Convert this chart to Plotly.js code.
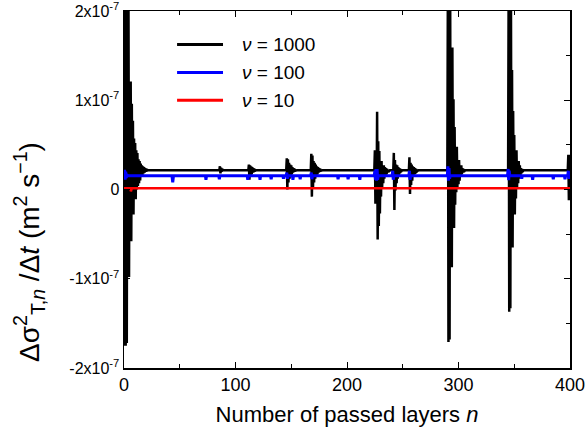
<!DOCTYPE html>
<html>
<head>
<meta charset="utf-8">
<script src="https://cdn.plot.ly/plotly-3.0.1.min.js"></script>
<style>html,body{margin:0;padding:0;background:#fff}#chart{width:587px;height:437px}</style>
</head>
<body>
<div id="chart"></div>
<script>
// values in units of 1e-8 m^2 s^-1
const UNIT = 1e-8;

// nu = 1000 (black): layer index n and rate value
const n1000 = [
  0,0.5,1,1.5,2,2.5,3,3.5,4,4.5,5,5.5,6,6.5,7,7.5,8,8.5,9,9.5,10,10.5,11,11.5,12,12.5,13,13.5,14,14.5,15,15.5,16,16.5,17,17.5,18,18.5,19,19.5,20,20.5,21,22,
  85.5,86,86.5,87,87.5,88,89,
  111.5,112,112.5,113,113.5,114,114.5,115,115.5,116,116.5,117,117.5,118.5,
  145.5,146,146.5,147,147.5,148,148.5,149,149.5,150,150.5,151,151.5,152,152.5,153,153.5,155,
  167.5,168,168.5,169,169.5,170,170.5,171,171.5,172,172.5,173,173.5,174,174.5,175,175.5,176,176.5,178,
  224.5,225,225.5,226,226.5,227,227.5,228,228.5,229,229.5,230,230.5,231,231.5,232,232.5,233,233.5,234,234.5,235,235.5,236,236.5,237,237.5,238.5,
  241.5,242,242.5,243,243.5,244,244.5,245,245.5,246,246.5,247,247.5,248,248.5,249.5,
  255.5,256,256.5,257,257.5,258,258.5,259,259.5,260,260.5,261,261.5,262,262.5,264,
  290,290.5,291,291.5,292,292.5,293,293.5,294,294.5,295,295.5,296,296.5,297,297.5,298,298.5,299,299.5,300,300.5,301,301.5,302,302.5,303,303.5,304,304.5,305,306,
  344.5,345,345.5,346,346.5,347,347.5,348,348.5,349,349.5,350,350.5,351,351.5,352,352.5,353,353.5,354,354.5,355,355.5,356,356.5,357,357.5,358.5,
  398,398.5,399,399.5,400
];
const v1000 = [
  24,-17.5,24,-17.5,24,-17.2,24,-9.8,22,-9.8,12.1,-5.8,12.1,-5.8,9.6,-2.8,7.7,-2.8,5.7,-1.1,5.2,-1.1,4.4,0,4.1,0.4,3.4,0.7,3.2,1.0,2.9,1.4,2.7,1.6,2.6,1.8,2.5,1.9,2.4,2.0,2.3,2.05,2.2,2.15,
  2.15,2.6,1.8,2.45,2.0,2.3,2.15,
  2.15,2.8,1.1,2.7,1.4,2.6,1.7,2.5,1.9,2.4,2.0,2.3,2.1,2.15,
  2.15,3.5,0.0,3.4,0.8,3.0,1.2,2.8,1.5,2.7,1.7,2.5,1.9,2.4,2.0,2.3,2.1,2.15,
  2.15,4.0,-0.8,3.8,0.2,3.2,0.8,3.0,1.2,2.8,1.5,2.6,1.7,2.5,1.9,2.4,2.0,2.3,2.1,2.15,
  2.15,4.4,-1.6,4.4,-1.6,8.7,-5.6,5.4,-4.1,4.3,-2.7,3.2,-0.8,3.2,0.2,2.7,0.7,2.7,1.2,2.5,1.5,2.4,1.7,2.3,1.9,2.2,2.0,2.15,
  2.15,4.1,-2.3,3.3,-0.1,2.8,0.7,2.7,1.2,2.5,1.6,2.4,1.8,2.3,2.0,2.15,
  2.15,3.6,-0.5,3.0,0.5,2.8,1.0,2.6,1.4,2.5,1.7,2.4,1.9,2.3,2.0,2.15,
  2.15,24,-17.1,24,-16.8,24,-8.7,15.9,-8.7,15.9,-4.3,10.1,-4.3,7.0,-1.7,4.8,-0.3,4.8,0.2,3.3,0.6,3.3,1.0,2.7,1.4,2.7,1.7,2.4,1.9,2.3,2.0,2.15,
  2.15,24,-13.7,24,-13.3,24,-6.5,13.4,-6.5,8.8,-2.8,6.1,-2.8,4.4,-1.0,4.4,0.2,3.2,0.7,3.2,1.2,2.7,1.5,2.4,1.8,2.3,2.0,2.15,
  2.15,3.9,-1.2,3.9,-1.2
];

// nu = 100 (blue)
const n100 = [
  0,0.5,1,1.5,2,2.5,3,
  43,43.7,44.4, 73,73.5,74, 85,85.5,86, 110.5,111,111.5, 121.5,122,122.5, 131.5,132,132.5,
  142.5,143,143.5, 145.5,146,146.5,147, 151,151.5,152, 157.5,158,158.5, 167.5,168,168.5,169,
  191.5,192,192.5, 200.5,201,201.5, 211,211.5,212,
  224.5,225,225.5,226,226.5,227,227.5,228, 240.5,241,241.5,242, 255.5,256,256.5,257,
  290,290.5,291,291.5,292,292.5, 344,344.5,345,345.5,346,
  356.2,356.7,357.2, 366,366.5,367, 384.5,385,385.5, 395,395.5,396, 398,398.5,399,399.5,400
];
const v100 = [
  1.2,2.2,1.1,2.0,1.3,1.7,1.55,
  1.55,0.8,1.55, 1.55,1.1,1.55, 1.55,1.15,1.55, 1.55,1.1,1.55, 1.55,1.1,1.55, 1.55,1.15,1.55,
  1.55,1.2,1.55, 1.55,1.9,1.2,1.55, 1.55,1.1,1.55, 1.55,1.15,1.55, 1.55,1.9,1.15,1.55,
  1.55,1.15,1.55, 1.55,1.15,1.55, 1.55,1.1,1.55,
  1.55,2.1,1.1,2.3,1.0,2.3,1.1,1.55, 1.55,2.1,1.1,1.55, 1.55,2.1,1.1,1.55,
  1.55,2.6,1.0,2.4,1.2,1.55, 1.55,2.3,1.05,2.1,1.55,
  1.55,1.2,1.55, 1.55,1.1,1.55, 1.55,1.15,1.55, 1.55,1.15,1.55, 1.55,2.1,1.2,1.9,1.55
];

// nu = 10 (red)
const n10 = [0, 5.5, 6.2, 7, 400];
const v10 = [0.15, 0.15, -0.2, 0.15, 0.15];

const legendNames = ['<i>\u03bd</i> = 1000', '<i>\u03bd</i> = 100', '<i>\u03bd</i> = 10'];
const colors = ['#000000', '#0000ff', '#ff0000'];
const widths = [2.5, 3, 2.5];

const yTickVals = [-2e-7, -1e-7, 0, 1e-7, 2e-7];
const yTickText = ['-2x10<sup>-7</sup>', '-1x10<sup>-7</sup>', '0', '1x10<sup>-7</sup>', '2x10<sup>-7</sup>'];
const xTickVals = [0, 100, 200, 300, 400];

const scale = arr => arr.map(v => v * UNIT);

const traces = [
  {x: n1000, y: scale(v1000), name: legendNames[0], mode: 'lines', line: {color: colors[0], width: widths[0]}},
  {x: n100, y: scale(v100), name: legendNames[1], mode: 'lines', line: {color: colors[1], width: widths[1]}},
  {x: n10, y: scale(v10), name: legendNames[2], mode: 'lines', line: {color: colors[2], width: widths[2]}}
];

const font = 'Arial, "Liberation Sans", Helvetica, sans-serif';

// legend drawn in paper coordinates (inside plot, upper left)
const legendRowsY = [0.906, 0.828, 0.750];
const legendLineX = [0.119, 0.222];
const legendTextX = 0.26;
const shapes = [];
const annotations = [];
legendNames.forEach((name, i) => {
  shapes.push({type: 'line', xref: 'paper', yref: 'paper', x0: legendLineX[0], x1: legendLineX[1],
    y0: legendRowsY[i], y1: legendRowsY[i], line: {color: colors[i], width: 3}});
  annotations.push({xref: 'paper', yref: 'paper', x: legendTextX, y: legendRowsY[i], xanchor: 'left', yanchor: 'middle',
    text: name, showarrow: false, font: {size: 19, family: font, color: '#000'}});
});
// y-axis title
annotations.push({xref: 'paper', yref: 'paper', x: -0.213, y: 0.325, xanchor: 'center', yanchor: 'middle', textangle: -90,
  text: '\u0394\u03c3<sup>2</sup><sub>T,<i>n</i></sub> /\u0394<i>t</i> (m<sup>2</sup> s<sup>\u22121</sup>)',
  showarrow: false, font: {size: 28, family: font, color: '#000'}});

const layout = {
  width: 587, height: 437,
  margin: {l: 124, r: 17, t: 11, b: 69},
  paper_bgcolor: '#fff', plot_bgcolor: '#fff',
  font: {family: font, color: '#000', size: 18},
  showlegend: false,
  shapes: shapes,
  annotations: annotations,
  xaxis: {
    range: [0, 400], tickmode: 'array', tickvals: xTickVals, ticktext: xTickVals.map(String),
    ticks: 'inside', ticklen: 6, tickwidth: 1, tickcolor: '#000',
    minor: {dtick: 50, tick0: 0, ticks: 'inside', ticklen: 4, tickcolor: '#000'},
    showline: true, linecolor: '#000', linewidth: 1.5, mirror: 'ticks',
    showgrid: false, zeroline: false, ticklabeloverflow: 'allow',
    tickfont: {size: 18},
    title: {text: 'Number of passed layers <i>n</i>', font: {size: 22}, standoff: 12}
  },
  yaxis: {
    range: [-2e-7, 2e-7], tickmode: 'array', tickvals: yTickVals, ticktext: yTickText,
    ticks: 'inside', ticklen: 6, tickwidth: 1, tickcolor: '#000',
    minor: {dtick: 5e-8, tick0: 0, ticks: 'inside', ticklen: 4, tickcolor: '#000'},
    showline: true, linecolor: '#000', linewidth: 1.5, mirror: 'ticks',
    showgrid: false, zeroline: false, ticklabeloverflow: 'allow',
    tickfont: {size: 16}
  }
};

Plotly.newPlot('chart', traces, layout, {displayModeBar: false, staticPlot: true});
</script>
</body>
</html>
